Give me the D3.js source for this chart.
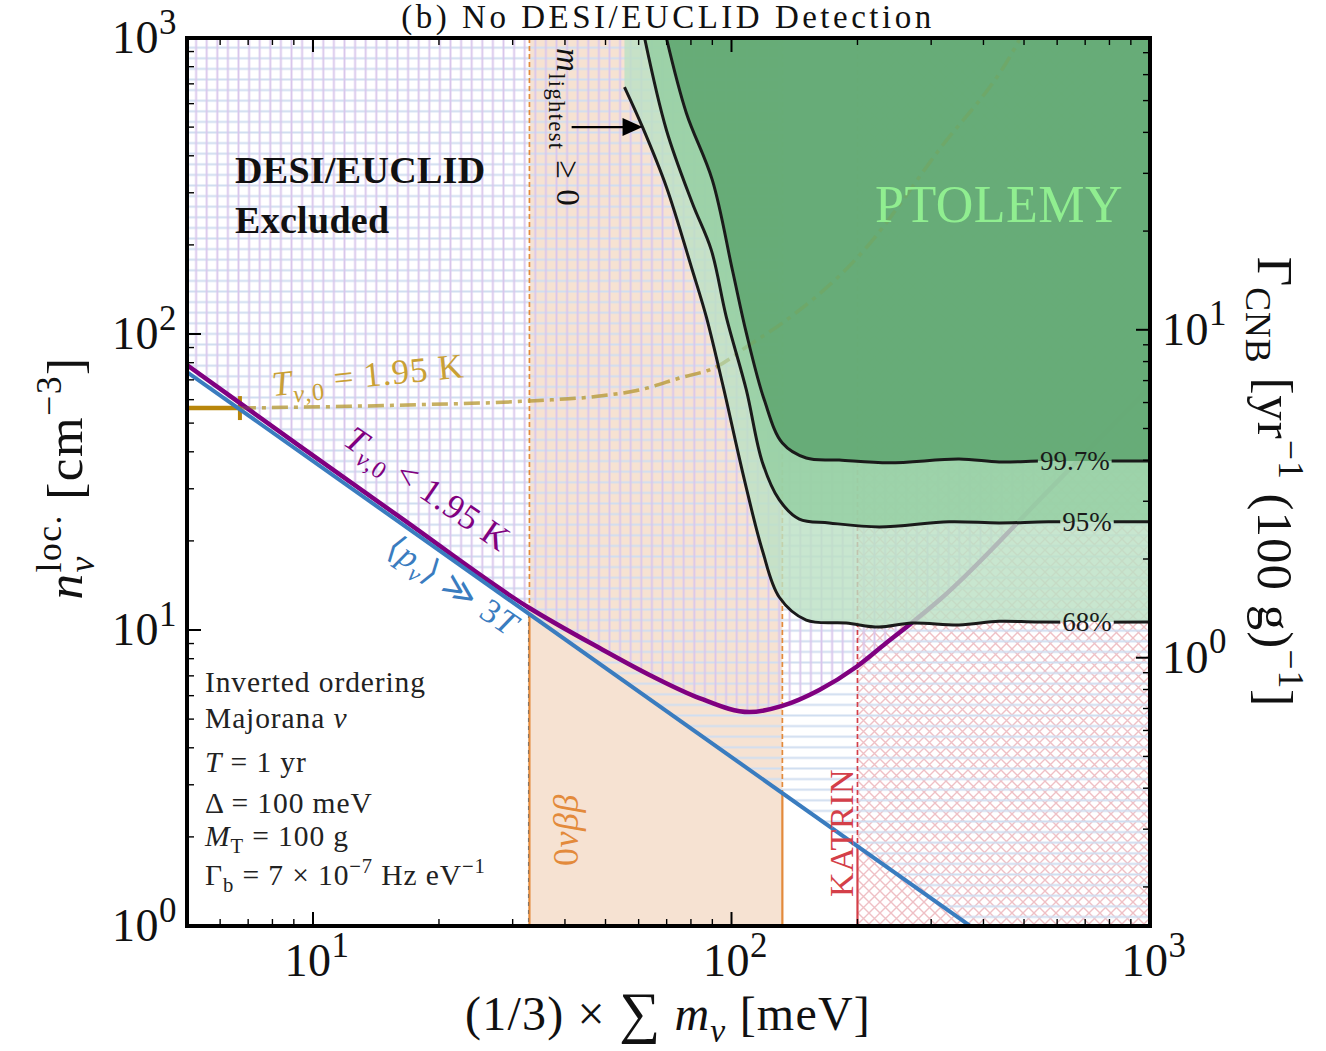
<!DOCTYPE html>
<html>
<head>
<meta charset="utf-8">
<script src="https://cdn.jsdelivr.net/npm/d3@7"></script>
<style>
	body { margin: 0; background: #fff; }
	svg text { font-family: "Liberation Serif", "DejaVu Serif", serif; white-space: pre; }
</style>
</head>
<body>
<svg id="chart" width="1326" height="1051"></svg>
<script>
// axis ranges
const massRange = [5, 1000];
const densityRange = [1, 1000];
const rateRange = [0.152, 77.6];

// <p> >> 3T line
const blueM = [5, 1000];
const blueN = [74.4, 0.372];

// T < 1.95 K curve
const purpleM = [5, 9.3, 16.1, 32.9, 48.4, 63.7, 83.8, 110.3, 132.2, 162.1, 198.6, 234.2, 265.7, 313.3, 573.6, 1000];
const purpleN = [78.6, 41.8, 24.1, 11.87, 8.69, 7.05, 5.89, 5.28, 5.54, 6.27, 7.5, 9.04, 10.4, 12.6, 29.7, 66.2];

// T = 1.95 K curve
const goldSolidM = [5, 6.69];
const goldSolidN = [56.2, 56.2];
const goldCapN = [51.2, 61.7];
const goldM = [6.69, 16.1, 32.9, 48.4, 60.3, 75.1, 92.0, 110.3, 132.2, 207.6, 313, 465, 490];
const goldN = [56.2, 57.5, 59.4, 61.7, 64.7, 71.0, 77.4, 91.8, 108.9, 192.2, 418, 876, 1000];

// experimental bounds [meV]
const bbLow = 32.9;
const bbHigh = 132.3;
const katrin = 200;

// PTOLEMY contours
const c68M = [55.5, 61.3, 69.9, 80.6, 87.1, 95.1, 97.2, 107.4, 118.5, 130.1, 150.9, 188, 225, 270, 350, 436, 543, 1000];
const c68N = [683, 500, 314, 164.5, 114, 68.3, 59.8, 32.1, 18.6, 12.9, 10.8, 10.56, 10.23, 10.56, 10.4, 10.7, 10.64, 10.64];
const c95M = [62.0, 69.9, 80.6, 89.5, 97.2, 108.5, 118.5, 130.1, 145.2, 171.2, 225.4, 331, 436, 573.6, 1000];
const c95N = [1000, 489, 277, 192, 114, 64.7, 36.9, 27.5, 23.7, 23.0, 22.3, 23.2, 23.0, 23.2, 23.2];
const c997M = [69.9, 78.0, 90.0, 100.5, 108.5, 119.8, 132.3, 150.9, 180.9, 238.1, 349.8, 436, 543, 1000];
const c997N = [1000, 558, 331, 164.5, 100.8, 59.8, 42.8, 38.1, 37.5, 36.7, 37.8, 36.95, 37.2, 37.2];
const contourNames = ['68%', '95%', '99.7%'];
const contourLabelM = [707, 707, 661];

const xMajor = [10, 100, 1000];
const yMajor = [1, 10, 100, 1000];
const rMajor = [1, 10];

(() => {
	const svg = d3.select('#chart');
	const x = d3.scaleLog().domain(massRange).range([187, 1150]);
	const y = d3.scaleLog().domain(densityRange).range([926, 38]);
	const yR = d3.scaleLog().domain(rateRange).range([926, 38]);
	const [x0, x1] = x.range();
	const [yb, yt] = y.range();
	const zip = (a, b) => a.map((v, i) => [v, b[i]]);

	const defs = svg.append('defs');
	defs.append('clipPath').attr('id', 'plot')
		.append('rect').attr('x', x0).attr('y', yt).attr('width', x1 - x0).attr('height', yb - yt);

	const straight = d3.line().x(d => x(d[0])).y(d => y(d[1]));
	const smooth = d3.line().x(d => x(d[0])).y(d => y(d[1])).curve(d3.curveMonotoneX);
	const contourLine = d3.line().x(d => x(d[0])).y(d => y(d[1])).curve(d3.curveCatmullRom.alpha(0.5));
	const aboveArea = d3.area().x(d => x(d[0])).y0(yt - 5).y1(d => y(d[1])).curve(d3.curveMonotoneX);
	const belowArea = d3.area().x(d => x(d[0])).y0(yb + 60).y1(d => y(d[1])).curve(d3.curveMonotoneX);

	const bluePts = zip(blueM, blueN);
	const purplePts = zip(purpleM, purpleN);
	const goldPts = zip(goldM, goldN);

	defs.append('clipPath').attr('id', 'aboveBlue').append('path').attr('d', aboveArea(bluePts));
	defs.append('clipPath').attr('id', 'belowBlue').append('path').attr('d', belowArea(bluePts));
	defs.append('clipPath').attr('id', 'abovePurple').append('path').attr('d', aboveArea(purplePts));

	const pattern = (id, size, d, color, w) => {
		const p = defs.append('pattern').attr('id', id)
			.attr('patternUnits', 'userSpaceOnUse')
			.attr('width', size).attr('height', size);
		p.append('path').attr('d', d).attr('stroke', color).attr('stroke-width', w).attr('fill', 'none');
	};
	pattern('vHatch', 10.6, 'M5.3,0V10.6', '#d9c6ec', 1.9);
	pattern('hHatch', 10.6, 'M0,5.3H10.6', '#d0def0', 2);
	pattern('xHatch', 11, 'M0,0L11,11M11,0L0,11M-1,1L1,-1M10,12L12,10', '#efc0c5', 1.4);

	// text with sub/superscripts
	const rich = (t, parts, size) => {
		let cur = 0;
		parts.forEach(p => {
			const [txt, o] = typeof p === 'string' ? [p, {}] : p;
			const off = o.sub ? size * 0.24 : o.sup ? -size * 0.42 : (o.dy || 0);
			const fs = (o.sub || o.sup) ? size * (o.s || 0.7) : size * (o.s || 1);
			t.append('tspan')
				.attr('dy', off - cur)
				.style('font-size', fs + 'px')
				.style('font-style', o.i ? 'italic' : null)
				.text(txt);
			cur = off;
		});
		return t;
	};
	const label = (g, px, py, angle, parts, size, color, anchor, ls) => {
		const t = g.append('text')
			.attr('transform', `translate(${px},${py}) rotate(${angle})`)
			.attr('fill', color || '#111')
			.attr('text-anchor', anchor || 'start')
			.style('letter-spacing', (ls || 0) + 'px')
			.style('font-size', size + 'px');
		return rich(t, parts, size);
	};

	const plot = svg.append('g').attr('clip-path', 'url(#plot)');

	// 0vbb band
	plot.append('rect')
		.attr('x', x(bbLow)).attr('y', yt)
		.attr('width', x(bbHigh) - x(bbLow)).attr('height', yb - yt)
		.attr('fill', '#f6e2d2');

	// KATRIN excluded
	plot.append('rect')
		.attr('x', x(katrin)).attr('y', yt)
		.attr('width', x1 - x(katrin)).attr('height', yb - yt)
		.attr('fill', 'url(#xHatch)');

	// hatches
	plot.append('g').attr('clip-path', 'url(#aboveBlue)')
		.append('rect').attr('x', x0).attr('y', yt).attr('width', x1 - x0).attr('height', yb - yt)
		.attr('fill', 'url(#hHatch)');
	plot.append('g').attr('clip-path', 'url(#abovePurple)')
		.append('rect').attr('x', x0).attr('y', yt).attr('width', x1 - x0).attr('height', yb - yt)
		.attr('fill', 'url(#vHatch)');

	// vertical bound lines
	[[bbLow, '#e38a3b'], [bbHigh, '#e38a3b'], [katrin, '#d43f49']].forEach(([m, c]) => {
		plot.append('g').attr('clip-path', 'url(#aboveBlue)')
			.append('line').attr('x1', x(m)).attr('x2', x(m)).attr('y1', yt).attr('y2', yb)
			.attr('stroke', c).attr('stroke-width', 1.7).attr('stroke-dasharray', '5,3');
		plot.append('g').attr('clip-path', 'url(#belowBlue)')
			.append('line').attr('x1', x(m)).attr('x2', x(m)).attr('y1', yt).attr('y2', yb)
			.attr('stroke', c).attr('stroke-width', 2.2);
	});
	plot.append('g').attr('clip-path', 'url(#belowBlue)')
		.append('line').attr('x1', x(bbLow) - 1).attr('x2', x(bbLow) - 1).attr('y1', yt).attr('y2', yb)
		.attr('stroke', '#555').attr('stroke-width', 1).attr('stroke-dasharray', '4,4').attr('opacity', 0.7);

	// T = 1.95 K
	plot.append('path').attr('d', smooth(goldPts))
		.attr('fill', 'none').attr('stroke', '#c9992f').attr('stroke-width', 3.5)
		.attr('opacity', 0.7).attr('stroke-dasharray', '16,6,4,6');
	plot.append('path').attr('d', straight(zip(goldSolidM, goldSolidN)))
		.attr('fill', 'none').attr('stroke', '#b8860b').attr('stroke-width', 4.5);
	plot.append('line')
		.attr('x1', x(goldSolidM[1])).attr('x2', x(goldSolidM[1]))
		.attr('y1', y(goldCapN[0])).attr('y2', y(goldCapN[1]))
		.attr('stroke', '#b8860b').attr('stroke-width', 4);

	// curves
	plot.append('path').attr('d', smooth(purplePts))
		.attr('fill', 'none').attr('stroke', '#800080').attr('stroke-width', 4.5);
	plot.append('path').attr('d', straight(bluePts))
		.attr('fill', 'none').attr('stroke', '#3a7cbf').attr('stroke-width', 4);

	// PTOLEMY regions
	const contours = [zip(c68M, c68N), zip(c95M, c95N), zip(c997M, c997N)];
	const fills = ['#bce1c4', '#94cea1', '#5ca36d'];
	contours.forEach((pts, i) => {
		plot.append('path')
			.attr('d', contourLine(pts) + `L${x1 + 5},${y(pts[pts.length - 1][1])}L${x1 + 5},${yt - 5}L${x(pts[0][0])},${yt - 5}Z`)
			.attr('fill', fills[i]).attr('opacity', 0.82);
	});
	// faint trace of the T = 1.95 K curve seen through the green
	plot.append('path').attr('d', smooth(goldPts))
		.attr('fill', 'none').attr('stroke', '#8a9a3a').attr('stroke-width', 3.5)
		.attr('opacity', 0.22).attr('stroke-dasharray', '16,6,4,6');

	// contour lines with inline labels
	contours.forEach((pts, i) => {
		const lvl = pts[pts.length - 1][1];
		const t = plot.append('text')
			.attr('x', x(contourLabelM[i])).attr('y', y(lvl) + 9)
			.attr('text-anchor', 'middle').attr('fill', '#1a1a1a')
			.style('font-size', '27px').text(contourNames[i]);
		const bb = t.node().getBBox();
		const mask = defs.append('mask').attr('id', 'cm' + i).attr('maskUnits', 'userSpaceOnUse')
			.attr('x', 0).attr('y', 0).attr('width', 1326).attr('height', 1051);
		mask.append('rect').attr('width', 1326).attr('height', 1051).attr('fill', '#fff');
		mask.append('rect').attr('x', bb.x - 2).attr('y', bb.y).attr('width', bb.width + 4).attr('height', bb.height).attr('fill', '#000');
		plot.append('path').attr('d', contourLine(pts)).attr('mask', `url(#cm${i})`)
			.attr('fill', 'none').attr('stroke', '#1a1a1a').attr('stroke-width', 3);
	});

	// annotations
	const ann = svg.append('g');
	label(ann, 875, 222, 0, ['PTOLEMY'], 52, '#90ee90', 'start', 0.5);
	label(ann, 235, 183, 0, ['DESI/EUCLID'], 38, '#111', 'start', 0.3).style('font-weight', 'bold');
	label(ann, 235, 233, 0, ['Excluded'], 38, '#111', 'start', 0.3).style('font-weight', 'bold');
	label(ann, 273, 396, -5.6, [['T', {i: true}], ['ν', {sub: true, i: true}], [',0', {sub: true}], ' = 1.95 K'], 35, '#c9a035', 'start', 0.9);
	label(ann, 342, 444, 34.5, [['T', {i: true}], ['ν', {sub: true, i: true}], [',0', {sub: true}], ' < 1.95 K'], 35, '#800080', 'start', 0.8);
	label(ann, 384, 553, 34, ['⟨', ['p', {i: true}], ['ν', {sub: true, i: true}], '⟩ ≫ 3', ['T', {i: true}]], 34, '#3a7cbf', 'start', 0.8);
	label(ann, 578, 866, -90, ['0', ['νββ', {i: true}]], 36, '#e38a3b', 'start', 0.5);
	label(ann, 853, 897, -90, ['KATRIN'], 34, '#d43f49', 'start', 0.6);
	label(ann, 557, 48, 90, [['m', {i: true}], ['lightest', {sub: true, s: 0.68}], ' ≥ 0'], 33, '#111', 'start', 1.4);

	// arrow
	const tip = [x(c68M[1]), y(c68N[1])];
	ann.append('line').attr('x1', x(41.5)).attr('x2', tip[0] - 14).attr('y1', tip[1]).attr('y2', tip[1])
		.attr('stroke', '#000').attr('stroke-width', 2.4);
	ann.append('path').attr('d', `M${tip[0]},${tip[1]}L${tip[0] - 20},${tip[1] - 9}L${tip[0] - 20},${tip[1] + 9}Z`)
		.attr('fill', '#000');

	// parameter block
	const params = [
		['Inverted ordering'],
		['Majorana ', ['ν', {i: true}]],
		[['T', {i: true}], ' = 1 yr'],
		['Δ = 100 meV'],
		[['M', {i: true}], ['T', {sub: true}], ' = 100 g'],
		['Γ', ['b', {sub: true}], ' = 7 × 10', ['−7', {sup: true}], ' Hz eV', ['−1', {sup: true}]]
	];
	const paramY = [692, 728, 772, 813, 846, 885];
	params.forEach((p, i) => label(ann, 205, paramY[i], 0, p, 29.5, '#222', 'start', 0.9));

	// frame
	svg.append('rect').attr('x', x0).attr('y', yt).attr('width', x1 - x0).attr('height', yb - yt)
		.attr('fill', 'none').attr('stroke', '#000').attr('stroke-width', 4);

	// ticks
	const tk = svg.append('g').attr('stroke', '#000');
	const isMajor = (v, arr) => arr.some(a => Math.abs(a - v) / a < 1e-6);
	x.ticks().filter(v => v > massRange[0] && v < massRange[1]).forEach(v => {
		const len = isMajor(v, xMajor) ? 14 : 7;
		const w = isMajor(v, xMajor) ? 2 : 1.4;
		tk.append('line').attr('x1', x(v)).attr('x2', x(v)).attr('y1', yb).attr('y2', yb - len).attr('stroke-width', w);
		tk.append('line').attr('x1', x(v)).attr('x2', x(v)).attr('y1', yt).attr('y2', yt + len).attr('stroke-width', w);
	});
	y.ticks().filter(v => v > densityRange[0] && v < densityRange[1]).forEach(v => {
		const len = isMajor(v, yMajor) ? 14 : 7;
		tk.append('line').attr('x1', x0).attr('x2', x0 + len).attr('y1', y(v)).attr('y2', y(v)).attr('stroke-width', isMajor(v, yMajor) ? 2 : 1.4);
	});
	yR.ticks().filter(v => v > rateRange[0] && v < rateRange[1]).forEach(v => {
		const len = isMajor(v, rMajor) ? 14 : 7;
		tk.append('line').attr('x1', x1).attr('x2', x1 - len).attr('y1', yR(v)).attr('y2', yR(v)).attr('stroke-width', isMajor(v, rMajor) ? 2 : 1.4);
	});

	// tick labels
	const pow = v => ['10', [String(Math.round(Math.log10(v))), {sup: true, s: 0.76}]];
	xMajor.forEach(v => label(svg, x(v) + 4, yb + 50, 0, pow(v), 46, '#111', 'middle', 0.5));
	yMajor.forEach(v => label(svg, 177, y(v) + 15, 0, pow(v), 46, '#111', 'end', 0.5));
	rMajor.forEach(v => label(svg, 1162, yR(v) + 15, 0, pow(v), 46, '#111', 'start', 0.5));

	// titles
	label(svg, 668, 28, 0, ['(b) No DESI/EUCLID Detection'], 33, '#111', 'middle', 3.5);
	label(svg, 668, 1030, 0, ['(1/3) × ', ['∑', {s: 1.2, dy: 2}], [' ', {dy: 0}], ['m', {i: true}], ['ν', {sub: true, i: true}], ' [meV]'], 48, '#111', 'middle', 1.2);

	const ls = 51;
	const lt = svg.append('text')
		.attr('transform', 'translate(82,478) rotate(-90)')
		.attr('text-anchor', 'middle').attr('fill', '#111')
		.style('letter-spacing', '1.5px').style('font-size', ls + 'px');
	rich(lt, [['n', {i: true}], ['ν', {sub: true, i: true}]], ls);
	const nuW = lt.selectAll('tspan').nodes()[1].getComputedTextLength();
	lt.append('tspan').attr('dx', -nuW).attr('dy', -ls * 0.42 - ls * 0.24).style('font-size', ls * 0.7 + 'px').text('loc.');
	lt.append('tspan').attr('dy', ls * 0.42).style('font-size', ls + 'px').text(' [cm');
	lt.append('tspan').attr('dy', -ls * 0.42).style('font-size', ls * 0.7 + 'px').text('−3');
	lt.append('tspan').attr('dy', ls * 0.42).style('font-size', ls + 'px').text(']');

	label(svg, 1258, 482, 90, ['Γ', ['CNB', {sub: true}], ' [yr', ['−1', {sup: true}], ' (100 g)', ['−1', {sup: true}], ']'], 51, '#111', 'middle', 1);
})();
</script>
</body>
</html>
